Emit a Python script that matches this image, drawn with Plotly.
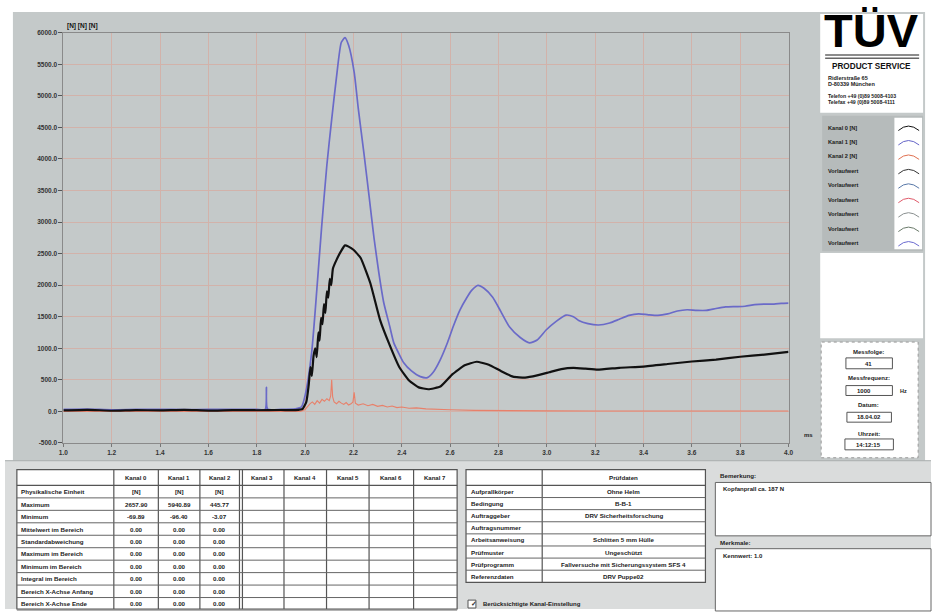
import plotly.graph_objects as go

W, H = 936, 612
def px(x): return x / W
def py(y): return 1 - y / H

FONT = "Liberation Sans, Arial, sans-serif"

# ---------------- data ----------------
t_black = [1.00, 1.10, 1.20, 1.30, 1.40, 1.50, 1.60, 1.70, 1.80, 1.90, 1.96, 1.99,
           2.005, 2.015, 2.022, 2.028, 2.035, 2.042, 2.048, 2.055, 2.060, 2.066, 2.072, 2.078,
           2.084, 2.090, 2.096, 2.102, 2.108, 2.115, 2.13, 2.15, 2.165, 2.18, 2.20, 2.23, 2.27,
           2.31, 2.35, 2.39, 2.43, 2.47, 2.51, 2.56, 2.61, 2.66, 2.71, 2.76, 2.81, 2.86, 2.91,
           2.96, 3.01, 3.06, 3.11, 3.16, 3.21, 3.30, 3.40, 3.50, 3.60, 3.70, 3.80, 3.90, 4.00]
v_black = [15, 25, 10, 20, 15, 25, 12, 20, 18, 22, 20, 40,
           150, 420, 700, 560, 880, 1000, 860, 1250, 1120, 1480, 1380, 1700,
           1560, 1900, 1800, 2100, 2000, 2260, 2400, 2547, 2630, 2610, 2560, 2430, 2030,
           1450, 1050, 700, 490, 380, 350, 393, 590, 730, 786, 740, 640, 550, 535,
           570, 620, 670, 690, 676, 660, 690, 710, 750, 790, 820, 865, 900, 943]

t_blue = [1.00, 1.10, 1.20, 1.30, 1.40, 1.50, 1.60, 1.70, 1.80, 1.835, 1.840, 1.845, 1.90,
          1.96, 1.985, 2.00, 2.027, 2.05, 2.068, 2.09, 2.109, 2.13, 2.150, 2.165, 2.18, 2.203,
          2.22, 2.244, 2.265, 2.285, 2.305, 2.326, 2.35, 2.367, 2.39, 2.408, 2.44, 2.477, 2.506,
          2.53, 2.559, 2.59, 2.612, 2.64, 2.670, 2.69, 2.715, 2.74, 2.776, 2.81, 2.846, 2.89,
          2.928, 2.96, 2.997, 3.04, 3.079, 3.11, 3.132, 3.17, 3.214, 3.26, 3.30, 3.34, 3.38,
          3.42, 3.46, 3.50, 3.54, 3.58, 3.62, 3.66, 3.70, 3.74, 3.78, 3.82, 3.86, 3.90, 3.94,
          3.97, 4.00]
v_blue = [30, 35, 25, 30, 32, 28, 30, 32, 30, 30, 380, 35, 32,
          40, 70, 250, 928, 2000, 2900, 3900, 4590, 5300, 5848, 5920, 5800, 5376,
          4800, 4071, 3400, 2751, 2200, 1713, 1350, 1085, 900, 770, 640, 550, 535,
          620, 817, 1100, 1336, 1600, 1808, 1920, 1996, 1950, 1808, 1580, 1336, 1170,
          1085, 1130, 1289, 1430, 1525, 1500, 1440, 1390, 1368, 1400, 1460, 1520, 1545,
          1530, 1520, 1545, 1590, 1610, 1600, 1600, 1630, 1655, 1660, 1665, 1690, 1700, 1700,
          1710, 1715]

t_red = [1.00, 1.50, 1.98, 2.00, 2.01, 2.02, 2.03, 2.04, 2.05, 2.06, 2.07, 2.08, 2.09, 2.10,
         2.106, 2.110, 2.114, 2.12, 2.13, 2.14, 2.15, 2.16, 2.17, 2.18, 2.19, 2.198, 2.203,
         2.208, 2.22, 2.24, 2.26, 2.28, 2.30, 2.32, 2.34, 2.36, 2.38, 2.40, 2.43, 2.46, 2.50,
         2.55, 2.60, 2.70, 2.80, 3.00, 3.20, 3.50, 4.00]
v_red = [0, 0, 0, 30, 80, 120, 150, 110, 170, 130, 190, 160, 200, 170,
         250, 500, 230, 150, 120, 160, 130, 110, 140, 100, 120, 150, 300,
         130, 100, 120, 90, 110, 80, 95, 70, 85, 60, 70, 50, 55, 40,
         30, 25, 15, 10, 8, 5, 5, 5]

x_ticks = [1.0, 1.2, 1.4, 1.6, 1.8, 2.0, 2.2, 2.4, 2.6, 2.8, 3.0, 3.2, 3.4, 3.6, 3.8, 4.0]
x_labels = ["1.0", "1.2", "1.4", "1.6", "1.8", "2.0", "2.2", "2.4", "2.6", "2.8",
            "3.0", "3.2", "3.4", "3.6", "3.8", "4.0"]
y_ticks = [-500, 0, 500, 1000, 1500, 2000, 2500, 3000, 3500, 4000, 4500, 5000, 5500, 6000]
y_labels = ["-500.0", "0.0", "500.0", "1000.0", "1500.0", "2000.0", "2500.0", "3000.0",
            "3500.0", "4000.0", "4500.0", "5000.0", "5500.0", "6000.0"]

legend_labels = ["Kanal 0 [N]", "Kanal 1 [N]", "Kanal 2 [N]", "Vorlaufwert", "Vorlaufwert",
                 "Vorlaufwert", "Vorlaufwert", "Vorlaufwert", "Vorlaufwert"]
legend_colors = ["#111111", "#6464c8", "#e07050", "#333333", "#5878a8", "#e05a6a",
                 "#8a9090", "#6a7a6a", "#6a6ad0"]

table_channels = ["Kanal 0", "Kanal 1", "Kanal 2", "Kanal 3", "Kanal 4", "Kanal 5", "Kanal 6", "Kanal 7"]
table_rows = ["Physikalische Einheit", "Maximum", "Minimum", "Mittelwert im Bereich",
              "Standardabweichung", "Maximum im Bereich", "Minimum im Bereich",
              "Integral im Bereich", "Bereich X-Achse Anfang", "Bereich X-Achse Ende"]
kanal0_vals = ["[N]", "2657.90", "-69.89", "0.00", "0.00", "0.00", "0.00", "0.00", "0.00", "0.00"]
kanal1_vals = ["[N]", "5940.89", "-96.40", "0.00", "0.00", "0.00", "0.00", "0.00", "0.00", "0.00"]
kanal2_vals = ["[N]", "445.77", "-3.07", "0.00", "0.00", "0.00", "0.00", "0.00", "0.00", "0.00"]

pruef_labels = ["Aufprallkörper", "Bedingung", "Auftraggeber", "Auftragsnummer",
                "Arbeitsanweisung", "Prüfmuster", "Prüfprogramm", "Referenzdaten"]
pruef_values = ["Ohne Helm", "B-B-1", "DRV Sicherheitsforschung", "",
                "Schlitten 5 mm Hülle", "Ungeschützt", "Fallversuche mit Sicherungssystem SFS 4",
                "DRV Puppe02"]

# ---------------- figure ----------------
fig = go.Figure()
fig.add_trace(go.Scatter(x=t_red, y=v_red, mode="lines", name="Kanal 2 [N]",
                         line=dict(color="#e8806a", width=1.1)))
fig.add_trace(go.Scatter(x=t_blue, y=v_blue, mode="lines", name="Kanal 1 [N]",
                         line=dict(color="#6a6ac8", width=1.7, shape="spline", smoothing=0.6)))
fig.add_trace(go.Scatter(x=t_black, y=v_black, mode="lines", name="Kanal 0 [N]",
                         line=dict(color="#111111", width=2.2, shape="spline", smoothing=0.4)))

shapes = []
ann = []

def rect(x0, y0, x1, y1, fill=None, line=None, lw=1, layer="below", dash=None):
    d = dict(type="rect", xref="paper", yref="paper", x0=px(x0), x1=px(x1), y0=py(y1), y1=py(y0),
             layer=layer, line=dict(width=lw if line else 0, color=line or "rgba(0,0,0,0)"))
    if dash:
        d["line"]["dash"] = dash
    if fill:
        d["fillcolor"] = fill
    shapes.append(d)

def hline(x0, x1, y, color="#555", lw=1, layer="above"):
    shapes.append(dict(type="line", xref="paper", yref="paper", x0=px(x0), x1=px(x1),
                       y0=py(y), y1=py(y), layer=layer, line=dict(color=color, width=lw)))

def vline(x, y0, y1, color="#555", lw=1, layer="above"):
    shapes.append(dict(type="line", xref="paper", yref="paper", x0=px(x), x1=px(x),
                       y0=py(y0), y1=py(y1), layer=layer, line=dict(color=color, width=lw)))

def text(x, y, s, size=6.5, anchor="left", color="#222", bold=True, family=FONT):
    ann.append(dict(xref="paper", yref="paper", x=px(x), y=py(y), text=("<b>%s</b>" % s) if bold else s,
                    showarrow=False, xanchor=anchor, yanchor="middle",
                    font=dict(size=size, color=color, family=family)))

# window frame
rect(8, 8, 930, 462, fill="#c4c9c9")
# bottom area
rect(0, 462, 936, 612, fill="#dadcdc")
hline(0, 936, 462, color="#a8adad", lw=1, layer="below")

# right panel: logo
rect(824, 10, 928, 110, fill="#ffffff")
text(876, 27, "TÜV", size=47, anchor="center", color="#000")
hline(829, 924, 51.5, color="#666", lw=1.5, layer="below")
hline(829, 924, 55, color="#666", lw=1.5, layer="below")
text(876, 63, "PRODUCT SERVICE", size=8.2, anchor="center", color="#111")
text(830, 75, "Ridlerstraße 65", size=5.5)
text(830, 81, "D-80339 München", size=5.5)
text(830, 93, "Telefon +49 (0)89 5008-4103", size=5.2)
text(830, 99, "Telefax +49 (0)89 5008-4111", size=5.2)

# legend area
rect(826, 113, 928, 250, fill="#b6bbbb")
rect(899, 115, 927, 248, fill="#ffffff")
for i, (lab, col) in enumerate(zip(legend_labels, legend_colors)):
    yy = 125 + 14.6 * i
    text(830, yy, lab, size=5.6, color="#1a1a1a")
    path = "M %f,%f Q %f,%f %f,%f" % (px(903), py(yy + 3), px(913), py(yy - 6), px(924), py(yy + 3))
    shapes.append(dict(type="path", xref="paper", yref="paper", path=path, layer="above",
                       line=dict(color=col, width=1)))

# blank white area
rect(824, 252, 928, 338, fill="#ffffff")

# info box
rect(825, 342, 923, 459, fill="#ffffff", line="#999", lw=1, dash="dot")
text(873, 352, "Messfolge:", size=6, anchor="center")
rect(850, 358, 897, 369, fill="#ffffff", line="#555", lw=1, layer="above")
text(873, 364, "41", size=6, anchor="center")
text(873, 378, "Messfrequenz:", size=6, anchor="center")
rect(850, 386, 897, 396, fill="#ffffff", line="#555", lw=1, layer="above")
text(868, 391, "1000", size=6, anchor="center")
text(903, 391, "Hz", size=5.5, anchor="left")
text(873, 406, "Datum:", size=6, anchor="center")
rect(851, 413, 896, 423, fill="#ffffff", line="#555", lw=1, layer="above")
text(873, 418, "18.04.02", size=6, anchor="center")
text(873, 435, "Uhrzeit:", size=6, anchor="center")
rect(849, 440, 898, 451, fill="#ffffff", line="#555", lw=1, layer="above")
text(873, 446, "14:12:15", size=6, anchor="center")

# axis extras
text(806, 436, "ms", size=6)
text(61, 22, "[N] [N] [N]", size=6.5, color="#111")

# ---------- table 1 ----------
col_edges = [12, 110, 155, 197, 237, 282, 325, 368, 413, 457]
t1_top, head_bot, row_h = 471, 487, 12.6
nrows = len(table_rows)
rect(12, t1_top, 457, 612, fill="#ffffff", line="#555", lw=1.2)
for xe in col_edges[1:-1]:
    vline(xe, t1_top, 612, color="#555", lw=1.2)
vline(240, t1_top, 612, color="#555", lw=1.2)
hline(12, 457, head_bot, color="#555", lw=1.2)
for i in range(1, nrows + 1):
    hline(12, 457, head_bot + row_h * i, color="#666", lw=1)
for j, ch in enumerate(table_channels):
    x0, x1 = col_edges[j + 1], col_edges[j + 2]
    text((x0 + x1) / 2, 479, ch, size=6, anchor="center")
for i, lab in enumerate(table_rows):
    yy = head_bot + row_h * (i + 0.5)
    text(14, yy, lab, size=6.2)
    for j, vals in enumerate([kanal0_vals, kanal1_vals, kanal2_vals]):
        x0, x1 = col_edges[j + 1], col_edges[j + 2]
        text((x0 + x1) / 2, yy, vals[i], size=6.2, anchor="center")

# ---------- table 2 ----------
t2_l, t2_m, t2_r = 466, 543, 708
row_h2 = 12.25
t2_bot = head_bot + row_h2 * len(pruef_labels)
rect(t2_l, t1_top, t2_r, t2_bot, fill="#ffffff", line="#555", lw=1.2)
vline(t2_m, t1_top, t2_bot, color="#555", lw=1.2)
hline(t2_l, t2_r, head_bot, color="#555", lw=1.2)
for i in range(1, len(pruef_labels)):
    hline(t2_l, t2_r, head_bot + row_h2 * i, color="#666", lw=1)
text((t2_m + t2_r) / 2, 479, "Prüfdaten", size=6.2, anchor="center")
for i, (lab, val) in enumerate(zip(pruef_labels, pruef_values)):
    yy = head_bot + row_h2 * (i + 0.5)
    text(t2_l + 3, yy, lab, size=6.2)
    text((t2_m + t2_r) / 2, yy, val, size=6.2, anchor="center")
rect(468, 603, 476, 611, fill="#ffffff", line="#555", lw=1, layer="above")
text(469, 606, "✓", size=7, color="#333")
text(481, 607, "Berücksichtigte Kanal-Einstellung", size=6)

# ---------- remarks ----------
text(721, 477, "Bemerkung:", size=6.2)
rect(718, 484, 936, 538, fill="#ffffff", line="#666", lw=1)
text(724, 491, "Kopfanprall ca. 187 N", size=6)
text(721, 545, "Merkmale:", size=6.2)
rect(718, 551, 936, 614, fill="#ffffff", line="#666", lw=1)
text(724, 558, "Kennwert: 1.0", size=6)

grid_col = "#d2b2aa"
fig.update_layout(
    width=W, height=H, margin=dict(l=0, r=0, t=0, b=0),
    paper_bgcolor="#ffffff", plot_bgcolor="#ffffff", showlegend=False,
    shapes=shapes, annotations=ann,
    xaxis=dict(domain=[px(59), px(792)], range=[1.0, 4.0], tickvals=x_ticks,
               ticktext=["<b>%s</b>" % s for s in x_labels], showgrid=True, gridcolor=grid_col,
               gridwidth=1, zeroline=False, ticks="outside", ticklen=3, tickcolor="#777",
               showline=True, linecolor="#8a8a8a", mirror=True,
               tickfont=dict(size=6.5, color="#333", family=FONT)),
    yaxis=dict(domain=[py(444), py(29)], range=[-500, 6000], tickvals=y_ticks,
               ticktext=["<b>%s</b>" % s for s in y_labels], showgrid=True, gridcolor=grid_col,
               gridwidth=1, zeroline=False, ticks="outside", ticklen=4, tickcolor="#555",
               showline=True, linecolor="#8a8a8a", mirror=True,
               tickfont=dict(size=6.5, color="#333", family=FONT)),
)

fig.write_html("out.html", config={"displayModeBar": False},
               post_script="document.body.style.margin='0';document.body.style.padding='0';")
